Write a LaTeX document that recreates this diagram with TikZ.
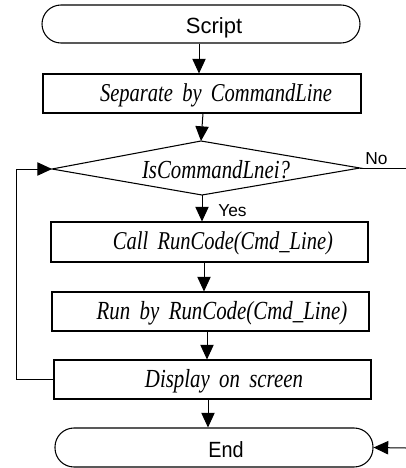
\documentclass[tikz,border=0pt]{standalone}
\usepackage{fontspec}
\setmainfont{Liberation Serif}
\setsansfont{Liberation Sans}
\usetikzlibrary{arrows.meta,fit}
\newcommand{\fitw}[2]{\scalebox{1}[1.25]{\resizebox{#1}{!}{\spaceskip=0.45em\relax #2}}}
\begin{document}
\begin{tikzpicture}[x=0.75pt,y=-0.75pt,
  boxst/.style={draw, line width=0.8pt, inner sep=0pt},
  termst/.style={draw, line width=0.8pt, inner sep=0pt, rounded corners=14.25pt},
  arr/.style={line width=0.75pt, -{Triangle[length=11pt,width=10pt]}},
  conn/.style={line width=0.75pt},
  itxt/.style={inner sep=0pt, font=\fontsize{17}{20}\selectfont\itshape},
  stxt/.style={inner sep=0pt, font=\sffamily\fontsize{16.5}{19}\selectfont},
  lbl/.style={inner sep=0pt, font=\sffamily\fontsize{13}{15}\selectfont}]
\useasboundingbox (0,0) rectangle (406,468);
% shapes
\node[termst, fit={(42,5)(360,43)}] (s) {};
\node[boxst, fit={(43,74)(361,113)}] (b1) {};
\coordinate (dT) at (201,141);
\coordinate (dR) at (360,168);
\coordinate (dB) at (202,195);
\coordinate (dL) at (52,169);
\draw[line width=0.8pt] (dT) -- (dR) -- (dB) -- (dL) -- cycle;
\node[boxst, fit={(51,222)(368,262)}] (b2) {};
\node[boxst, fit={(52,292)(369,331)}] (b3) {};
\node[boxst, fit={(54,360)(371,399)}] (b4) {};
\node[termst, fit={(55,428)(373,467)}] (e) {};
% texts
\node[stxt, anchor=base] (ts) at (214,33) {Script};
\node[itxt, anchor=base] (t1) at (216,101) {\fitw{174pt}{Separate by CommandLine}};
\node[itxt, anchor=base] (td) at (216,178) {\fitw{111pt}{IsCommandLnei?}};
\node[itxt, anchor=base] (t2) at (223,249.5) {\fitw{165pt}{Call RunCode(Cmd\_Line)}};
\node[itxt, anchor=base] (t3) at (222,319) {\fitw{188pt}{Run by RunCode(Cmd\_Line)}};
\node[itxt, anchor=base] (t4) at (224,387) {\fitw{118.5pt}{Display on screen}};
\node[stxt, anchor=base] (te) at (226,457) {\scalebox{0.9}[1]{End}};
\node[lbl, anchor=base west] (yes) at (218,216) {Yes};
\node[lbl, anchor=base west] (no) at (365,164) {No};
% connectors
\draw[arr] (s.south -| 199,0) -- (b1.north -| 199,0);
\draw[arr] (b1.south -| 203,0) -- (dT);
\draw[arr] (dB) -- (b2.north -| 202,0);
\draw[arr] (b2.south -| 204,0) -- (b3.north -| 204,0);
\draw[arr] (b3.south -| 207,0) -- (b4.north -| 207,0);
\draw[arr] (b4.south -| 208,0) -- (e.north -| 208,0);
\coordinate (lp) at (16,0);
\draw[arr] (b4.west) -| (lp |- dL) -- (dL);
\coordinate (noend) at (406,168);
\draw[conn] (dR) -- (noend);
\coordinate (endin) at (406,448);
\draw[arr] (endin) -- (e.east);
\end{tikzpicture}
\end{document}
